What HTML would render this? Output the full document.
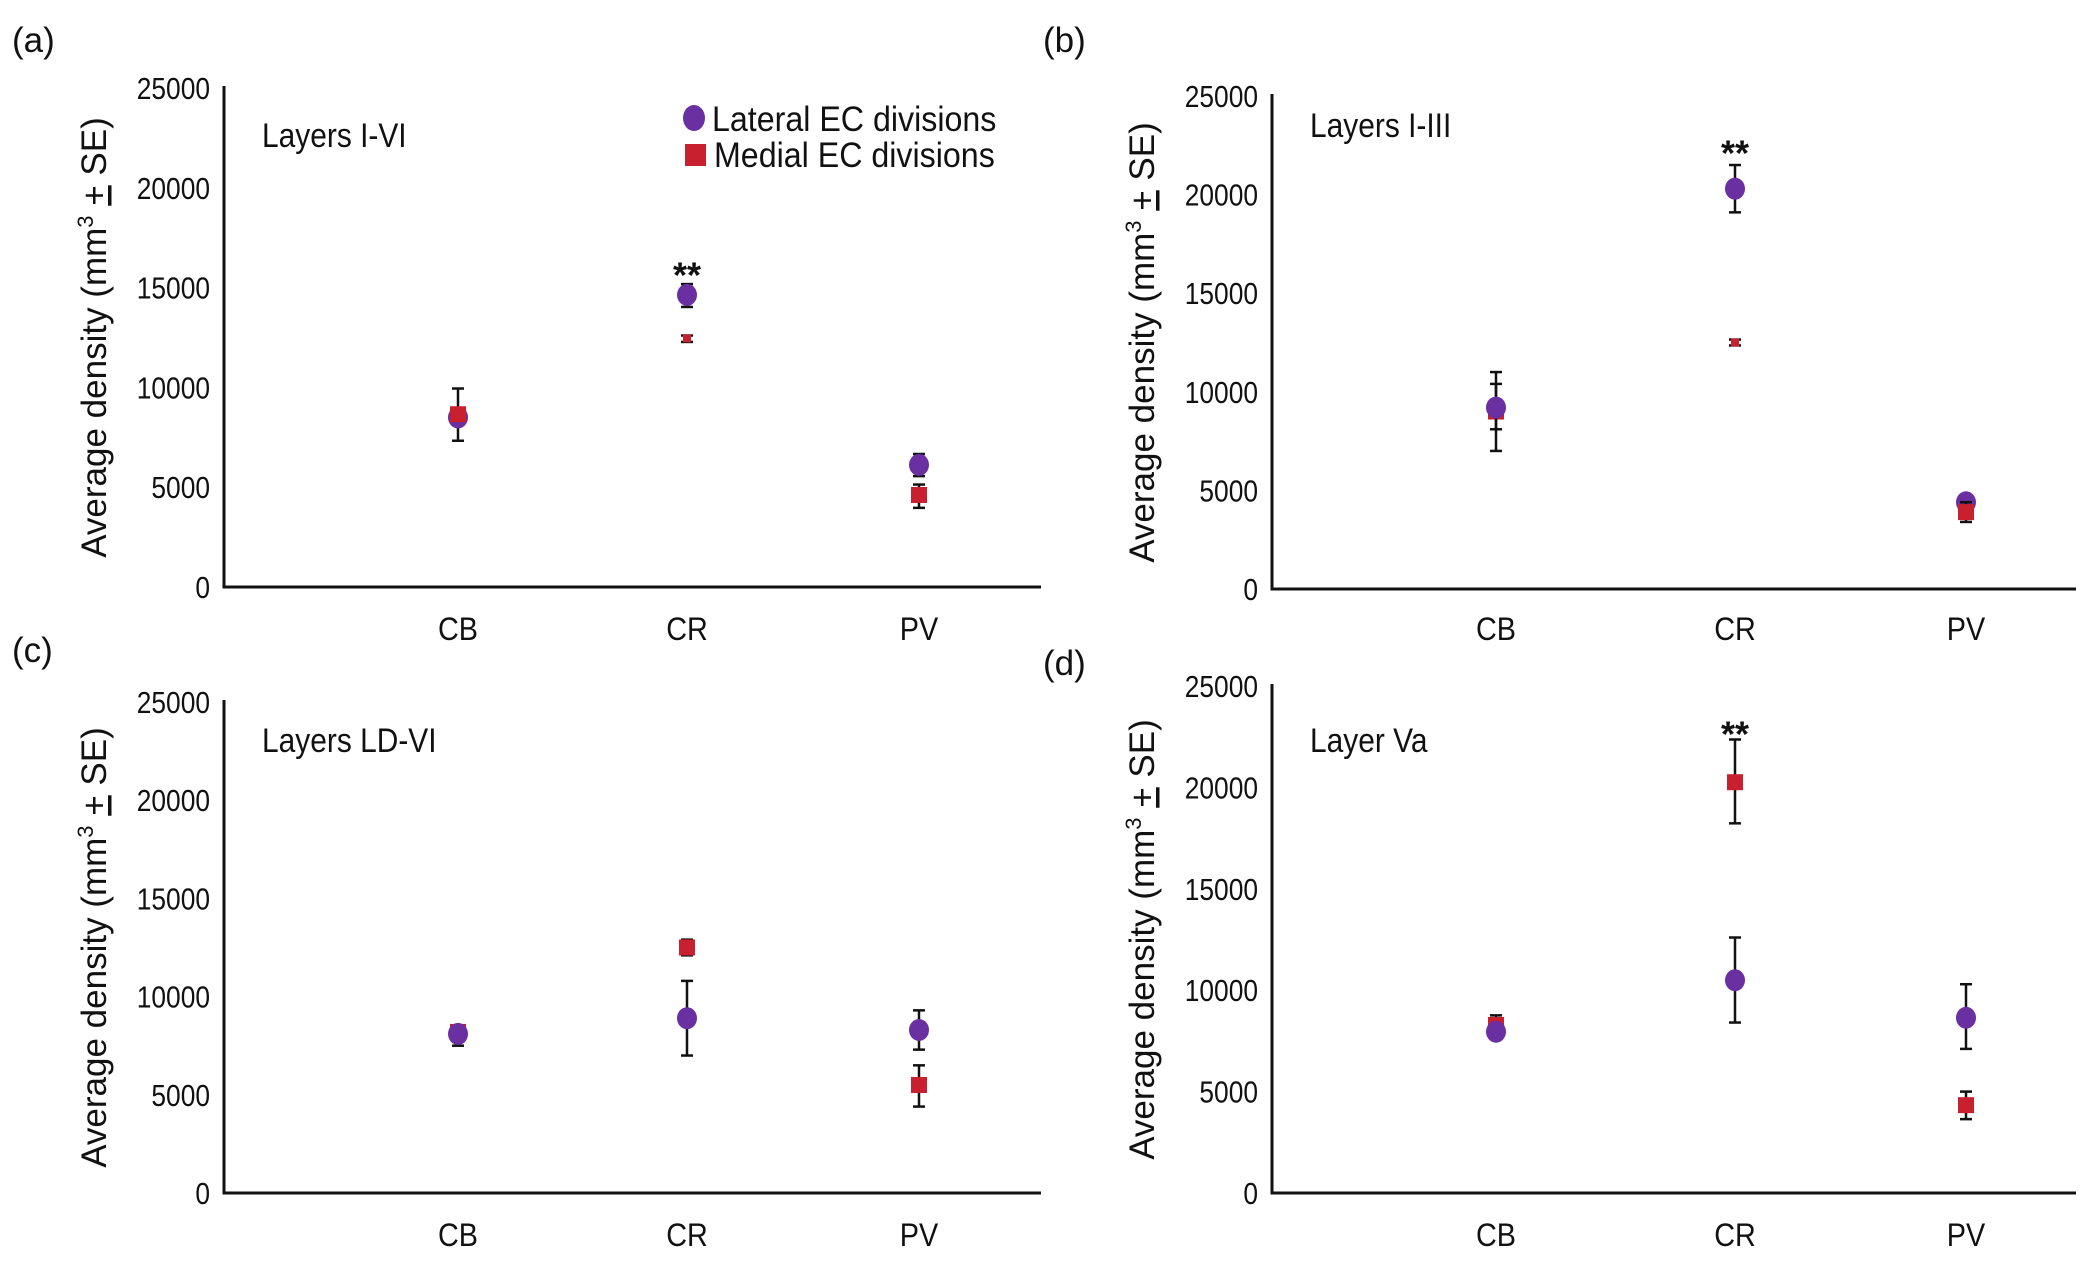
<!DOCTYPE html>
<html><head><meta charset="utf-8"><style>
html,body{margin:0;padding:0;background:#fff;}
svg{display:block;}
text{font-family:"Liberation Sans",sans-serif;fill:#111;}
</style></head><body>
<svg id="s" width="2100" height="1265" viewBox="0 0 2100 1265" xmlns="http://www.w3.org/2000/svg"></svg>
<script>
const P='#6a2fa0',R='#c8202f';
let o='';
function T(x,y,s,fs,anchor,sx){o+=`<text transform="translate(${x},${y}) scale(${sx||0.85},1)" font-size="${fs}" text-anchor="${anchor||'start'}">${s}</text>`;}
const panels=[
 {ax:224,top:88,bot:587,xe:1041,cats:[458,687,919],lab:'(a)',lx:12,ly:52,title:'Layers I-VI',ty:147,catY:640,
  d:[[8494,9944,7327,'P'],[8655,null,null,'R'],[14634,15177,14030,'P'],[12460,12600,12278,'R'],[6119,6663,5556,'P'],[4610,5133,3965,'R']],
  cx:[0,0,1,1,2,2],star:[1,15900]},
 {ax:1272,top:96,bot:589,xe:2076,cats:[1496,1735,1966],lab:'(b)',lx:1043,ly:52,title:'Layers I-III',ty:137,catY:640,
  d:[[9000,11000,7000,'R'],[9200,10400,8100,'P'],[20300,21500,19100,'P'],[12500,12650,12350,'R'],[4400,4500,4300,'P'],[3900,4400,3400,'R']],
  cx:[0,0,1,1,2,2],star:[1,22400]},
 {ax:224,top:702,bot:1193,xe:1041,cats:[458,687,919],lab:'(c)',lx:12,ly:662,title:'Layers LD-VI',ty:752,catY:1246,
  d:[[8200,8500,7500,'R'],[8100,null,null,'P'],[12500,12900,12100,'R'],[8900,10800,7000,'P'],[8300,9300,7300,'P'],[5500,6500,4400,'R']],
  cx:[0,0,1,1,2,2]},
 {ax:1272,top:686,bot:1193,xe:2076,cats:[1496,1735,1966],lab:'(d)',lx:1043,ly:675,title:'Layer Va',ty:752,catY:1246,
  d:[[8287,8760,7580,'R'],[7953,null,null,'P'],[20256,22362,18228,'R'],[10492,12598,8405,'P'],[8642,10295,7106,'P'],[4331,5000,3642,'R']],
  cx:[0,0,1,1,2,2],star:[1,22900]}
];
for(const p of panels){
 const Y=v=>p.bot-(v/25000)*(p.bot-p.top);
 o+=`<text x="${p.lx}" y="${p.ly}" font-size="35">${p.lab}</text>`;
 o+=`<line x1="${p.ax}" y1="${p.top-2}" x2="${p.ax}" y2="${p.bot}" stroke="#111" stroke-width="3"/>`;
 o+=`<line x1="${p.ax-1.5}" y1="${p.bot}" x2="${p.xe}" y2="${p.bot}" stroke="#111" stroke-width="3"/>`;
 for(let v=0;v<=25000;v+=5000) T(p.ax-14,Y(v)+11,v,31,'end');
 p.cats.forEach((c,i)=>T(c,p.catY,['CB','CR','PV'][i],32,'middle',0.9));
 T(p.ax+38,p.ty,p.title,34,'start',0.88);
 const cy=(p.top+p.bot)/2, lx=p.ax-118;
 o+=`<text transform="translate(${lx},${cy}) rotate(-90)" font-size="35" text-anchor="middle">Average density (mm<tspan font-size="22" dy="-13">3</tspan><tspan dy="13"> <tspan text-decoration="underline">+</tspan> SE)</tspan></text>`;
 p.d.forEach((d,i)=>{
  const x=p.cats[p.cx[i]];
  if(d[1]!=null){o+=`<line x1="${x}" y1="${Y(d[1])}" x2="${x}" y2="${Y(d[2])}" stroke="#111" stroke-width="2.5"/>`;
   for(const e of [d[1],d[2]]) o+=`<line x1="${x-6}" y1="${Y(e)}" x2="${x+6}" y2="${Y(e)}" stroke="#111" stroke-width="2.5"/>`;}
  const y=Y(d[0]);
  if(d[3]=='P') o+=`<ellipse cx="${x}" cy="${y}" rx="10" ry="11" fill="${P}"/>`;
  else {const s=(d[1]!=null&&(d[1]-d[2])<400)?8:16; o+=`<rect x="${x-s/2}" y="${y-s/2}" width="${s}" height="${s}" fill="${R}"/>`;}
 });
 if(p.star) o+=`<text x="${p.cats[p.star[0]]}" y="${Y(p.star[1])+18}" font-size="36" font-weight="bold" text-anchor="middle">**</text>`;
}
// legend
o+=`<ellipse cx="694" cy="118" rx="11" ry="13" fill="${P}"/>`;
o+=`<rect x="685" y="144" width="21" height="22" fill="${R}"/>`;
T(712,131,'Lateral EC divisions',35,'start',0.92);
T(714,167,'Medial EC divisions',35,'start',0.92);
document.getElementById('s').innerHTML=o;
</script>
</body></html>
